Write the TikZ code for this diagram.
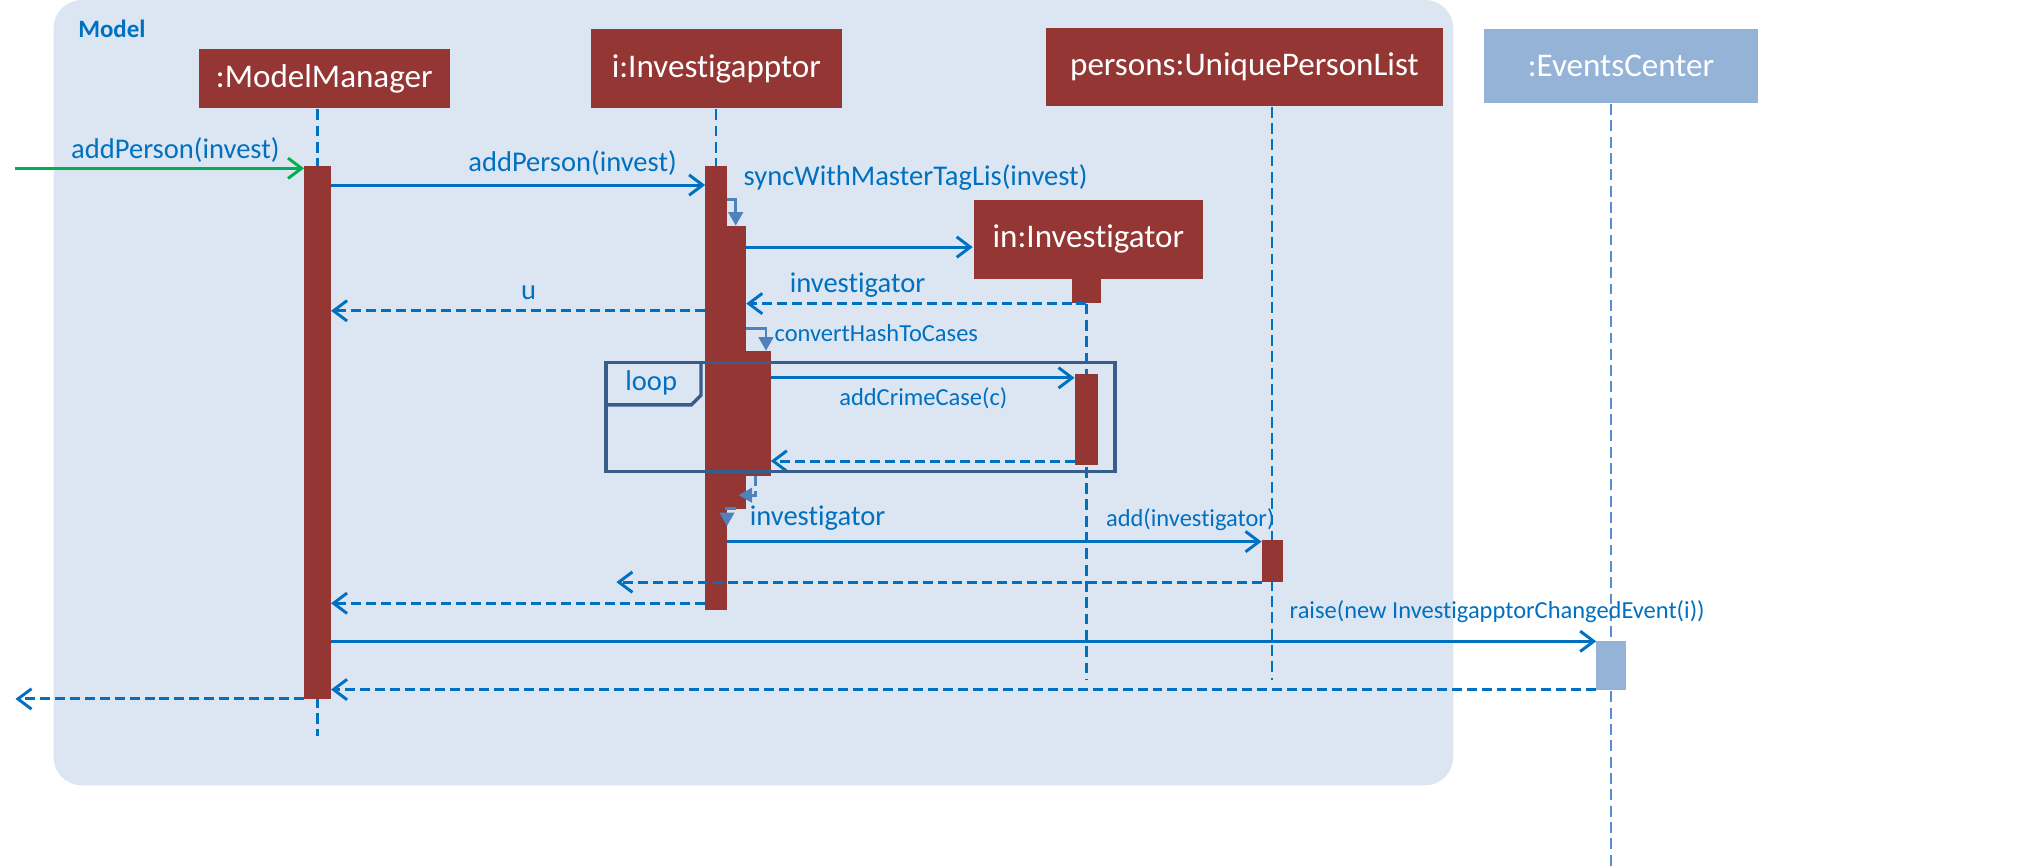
\documentclass[tikz,border=0pt]{standalone}
\usepackage{fontspec}
\setmainfont{Carlito}[Ligatures=NoCommon]
\usetikzlibrary{positioning,arrows.meta}
\definecolor{modelbg}{HTML}{DCE6F2}
\definecolor{objred}{HTML}{943634}
\definecolor{msgblue}{HTML}{0070C0}
\definecolor{selfblue}{HTML}{4F81BD}
\definecolor{loopblue}{HTML}{385D8A}
\definecolor{evblue}{HTML}{95B3D7}
\definecolor{evline}{HTML}{558ED5}
\definecolor{foundgreen}{HTML}{00B050}

\begin{document}
\begin{tikzpicture}[
        head/.style={fill=objred, text=white, inner sep=0pt, font=\fontsize{7.3}{8}\selectfont},
        bar/.style={inner sep=0pt, anchor=north},
        life/.style={draw=msgblue, line width=0.5pt, dash pattern=on 2.4pt off 1.2pt},
        msg/.style={draw=msgblue, line width=0.65pt, -{Straight Barb[length=3pt,width=4.5pt]}},
        ret/.style={msg, dash pattern=on 2.2pt off 1.1pt},
        selfcall/.style={draw=selfblue, line width=0.65pt, -{Triangle[length=3pt,width=3.2pt]}},
        selfret/.style={selfcall, dash pattern=on 2.2pt off 1.1pt},
        loopframe/.style={draw=loopblue, line width=0.75pt},
        lbl/.style={text=msgblue, inner sep=0pt, font=\fontsize{6.3}{7}\selectfont},
        smalllbl/.style={lbl, font=\fontsize{5.4}{6}\selectfont}
    ]
        \useasboundingbox (0,0) rectangle (15.68,-6.72);
        \fill[modelbg, rounded corners=0.22cm] (0.415,0) rectangle (11.27,-6.09);
        \node[text=msgblue, inner sep=0pt, anchor=west, font=\bfseries\fontsize{5.5}{6}\selectfont] (model) at (0.60,-0.22) {Model};

        \node[head, minimum width=1.95cm, minimum height=0.46cm] (mmHead) at (2.515,-0.61) {:ModelManager};
        \node[head, minimum width=1.95cm, minimum height=0.613cm] (invHead) at (5.555,-0.534) {i:Investigapptor};
        \node[head, minimum width=1.78cm, minimum height=0.61cm] (inHead) at (8.44,-1.855) {in:Investigator};
        \node[head, minimum width=3.08cm, minimum height=0.60cm] (uplHead) at (9.65,-0.52) {persons:UniquePersonList};
        \node[head, fill=evblue, minimum width=2.12cm, minimum height=0.575cm] (ecHead) at (12.57,-0.5125) {:EventsCenter};
        \node[bar, fill=objred, minimum width=0.23cm, minimum height=0.18cm] (inTail) at (8.425,-2.16) {};

        \node[bar, minimum width=0.195cm, minimum height=4.119cm] (mmBar) at (2.4625,-1.287) {};
        \node[bar, minimum width=0.155cm, minimum height=3.433cm] (invBar) at (5.5525,-1.287) {};
        \node[bar, minimum width=0.15cm, minimum height=2.18cm] (syncBar) at (5.705,-1.75) {};
        \node[bar, minimum width=0.19cm, minimum height=0.96cm] (convBar) at (5.875,-2.72) {};
        \node[bar, minimum width=0.17cm, minimum height=0.69cm] (inBar) at (8.425,-2.90) {};
        \node[bar, minimum width=0.15cm, minimum height=0.31cm] (uplBar) at (9.865,-4.19) {};
        \node[bar, minimum width=0.215cm, minimum height=0.363cm] (ecBar) at (12.4925,-4.97) {};

        \draw[life] (mmBar.north |- mmHead.south) -- (mmBar.south |- 0,-5.708);
        \draw[life] (invBar.north |- invHead.south) -- (invBar.north);
        \draw[life] (inTail.south) -- (inBar.north |- 0,-5.27);
        \draw[life] (uplBar.north |- uplHead.south) -- (uplBar.south |- 0,-5.27);
        \draw[life, draw=evline] (ecBar.north |- ecHead.south) -- (ecBar.south |- 0,-6.72);
        \foreach \b/\c in {mmBar/objred,invBar/objred,syncBar/objred,convBar/objred,inBar/objred,uplBar/objred,ecBar/evblue}
            \fill[\c] (\b.north west) rectangle (\b.south east);

        \coordinate (foundStart) at (0.12,-1.305);
        \draw[msg, draw=foundgreen] (foundStart) -- (mmBar.west |- foundStart);
        \node[lbl] (foundLbl) at (1.36,-1.16) {addPerson(invest)};
        \draw[msg] (mmBar.east |- 0,-1.435) -- (invBar.west |- 0,-1.435);
        \node[lbl] (addLbl) at (4.44,-1.265) {addPerson(invest)};
        \draw[selfcall] (invBar.east |- 0,-1.545) -| (syncBar.north);
        \node[lbl] (syncLbl) at (7.10,-1.38) {syncWithMasterTagLis(invest)};
        \draw[msg] (syncBar.east |- 0,-1.916) -- (inHead.west |- 0,-1.916);
        \draw[ret] (inTail.south) -- (syncBar.east |- inTail.south);
        \node[lbl] (newLbl) at (6.65,-2.21) {investigator};
        \draw[ret] (invBar.west |- 0,-2.41) -- (mmBar.east |- 0,-2.41);
        \node[lbl] (uLbl) at (4.10,-2.27) {u};
        \draw[selfcall] (syncBar.east |- 0,-2.546) -| ([xshift=0.65mm]convBar.north);
        \node[smalllbl, anchor=west] (convLbl) at (6.00,-2.58) {convertHashToCases};

        \draw[msg] (convBar.east |- 0,-2.93) -- (inBar.west |- 0,-2.93);
        \node[smalllbl] (crimeLbl) at (7.16,-3.09) {addCrimeCase(c)};
        \draw[ret] (inBar.west |- 0,-3.575) -- (convBar.east |- 0,-3.575);
        \draw[loopframe] (4.70,-2.81) rectangle (8.645,-3.656);
        \draw[loopframe] (4.70,-3.14) -- (5.36,-3.14) -- (5.436,-3.065) -- (5.436,-2.81);
        \node[lbl] (loopLbl) at (5.05,-2.97) {loop};

        \draw[selfret] ([xshift=-0.2mm]convBar.south) |- ([xshift=-0.6mm]syncBar.east |- 0,-3.84);
        \draw[selfret] (syncBar.south) -| (invBar.east |- 0,-4.08);
        \node[lbl] (invLbl) at (6.34,-4.02) {investigator};
        \draw[msg] (invBar.east |- 0,-4.20) -- (uplBar.west |- 0,-4.20);
        \node[smalllbl] (addInvLbl) at (9.23,-4.03) {add(investigator)};
        \coordinate (uplRetEnd) at (uplBar.south west -| 4.78,0);
        \draw[ret] (uplBar.south west) -- (uplRetEnd);
        \draw[ret] (invBar.west |- 0,-4.678) -- (mmBar.east |- 0,-4.678);
        \draw[msg] (mmBar.east |- 0,-4.973) -- (ecBar.west |- 0,-4.973);
        \node[smalllbl] (raiseLbl) at (11.61,-4.74) {raise(new InvestigapptorChangedEvent(i))};
        \draw[ret] (ecBar.south west) -- (mmBar.east |- ecBar.south west);
        \coordinate (outEnd) at (mmBar.south west -| 0.12,0);
        \draw[ret] (mmBar.south west) -- (outEnd);
    \end{tikzpicture}
\end{document}
